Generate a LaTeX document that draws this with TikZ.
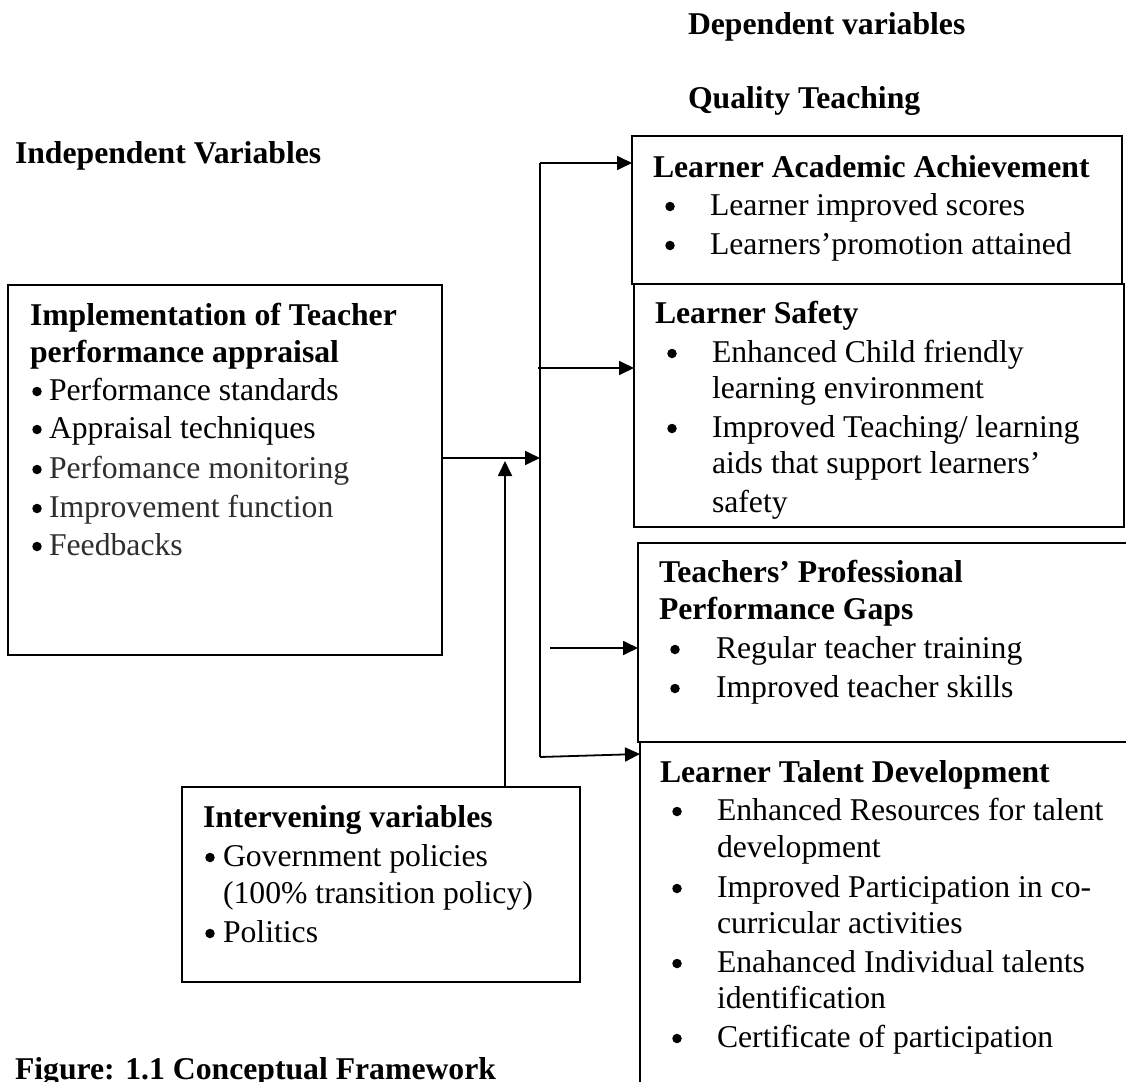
\documentclass[tikz,border=0pt]{standalone}
\usepackage{fontspec}
\setmainfont{Liberation Serif}
\usetikzlibrary{arrows.meta}
\begin{document}
\begin{tikzpicture}[x=1pt,y=-1pt,
  txt/.style={inner sep=0pt, outer sep=0pt, anchor=base west, font=\fontsize{31.7}{38}\selectfont},
  hd/.style={txt, font=\fontsize{31.7}{38}\selectfont\bfseries},
  gry/.style={txt, text=black!82},
  bul/.style={circle, fill=black, draw=none, inner sep=0pt, outer sep=0pt, minimum size=9.5pt},
  box/.style={draw, line width=1.8pt, inner sep=0pt, outer sep=0pt, anchor=north west},
  openbox/.style={box, draw=none},
  ln/.style={line width=1.8pt},
  arr/.style={line width=1.8pt, -{Triangle[length=15pt,width=14pt]}}]
\useasboundingbox (0,0) rectangle (1126,1081);

% boxes
\node[box, minimum width=490pt, minimum height=148pt] (A) at (632,136) {};
\node[box, minimum width=490pt, minimum height=243pt] (B) at (634,284) {};
\node[openbox, minimum width=492pt, minimum height=199pt] (C) at (638,543) {};
\node[openbox, minimum width=490pt, minimum height=345pt] (D) at (640,742) {};
\node[box, minimum width=434pt, minimum height=370pt] (L) at (8,285) {};
\node[box, minimum width=398pt, minimum height=195pt] (I) at (182,787) {};
\draw[ln] (C.north east) -- (C.north west) -- (C.south west) -- (C.south east);
\draw[ln] (D.north east) -- (D.north west) -- (D.south west);

% headings
\node[hd] (hDep) at (688,35) {Dependent variables};
\node[hd] (hQual) at (688,108) {Quality Teaching};
\node[hd] (hInd) at (15,163) {Independent Variables};
\node[hd] (hFig) at (15,1079) {Figure: 1.1 Conceptual Framework};

% box A
\node[hd] (tA) at (653,177) {Learner Academic Achievement};
\node[bul] (a1b) at (670,206.5) {};
\node[txt] (a1) at (710,215) {Learner improved scores};
\node[bul] (a2b) at (670,245.5) {};
\node[txt] (a2) at (710,254) {Learners’promotion attained};

% box B
\node[hd] (tB) at (655,323) {Learner Safety};
\node[bul] (b1b) at (672,353.5) {};
\node[txt] (b1) at (712,362) {Enhanced Child friendly};
\node[txt] (b1c) at (712,398) {learning environment};
\node[bul] (b2b) at (672,428.5) {};
\node[txt] (b2) at (712,437) {Improved Teaching/ learning};
\node[txt] (b2c) at (712,473) {aids that support learners’};
\node[txt] (b2d) at (712,512) {safety};

% box C
\node[hd] (tC1) at (659,582) {Teachers’ Professional};
\node[hd] (tC2) at (659,619) {Performance Gaps};
\node[bul] (c1b) at (675,649.5) {};
\node[txt] (c1) at (716,658) {Regular teacher training};
\node[bul] (c2b) at (675,688.5) {};
\node[txt] (c2) at (716,697) {Improved teacher skills};

% box D
\node[hd] (tD) at (660,782) {Learner Talent Development};
\node[bul] (d1b) at (677,811.5) {};
\node[txt] (d1) at (717,820) {Enhanced Resources for talent};
\node[txt] (d1c) at (717,857) {development};
\node[bul] (d2b) at (677,888.5) {};
\node[txt] (d2) at (717,897) {Improved Participation in co-};
\node[txt] (d2c) at (717,933) {curricular activities};
\node[bul] (d3b) at (677,963.5) {};
\node[txt] (d3) at (717,972) {Enahanced Individual talents};
\node[txt] (d3c) at (717,1008) {identification};
\node[bul] (d4b) at (677,1038.5) {};
\node[txt] (d4) at (717,1047) {Certificate of participation};

% left box
\node[hd] (tL1) at (30,325) {Implementation of Teacher};
\node[hd] (tL2) at (30,362) {performance appraisal};
\node[bul] (l1b) at (37,391.5) {};
\node[txt] (l1) at (49,400) {Performance standards};
\node[bul] (l2b) at (37,429.5) {};
\node[txt] (l2) at (49,438) {Appraisal techniques};
\node[bul] (l3b) at (37,469.5) {};
\node[gry] (l3) at (49,478) {Perfomance monitoring};
\node[bul] (l4b) at (37,508.5) {};
\node[gry] (l4) at (49,517) {Improvement function};
\node[bul] (l5b) at (37,546.5) {};
\node[gry] (l5) at (49,555) {Feedbacks};

% intervening box
\node[hd] (tI) at (203,827) {Intervening variables};
\node[bul] (i1b) at (210,857.5) {};
\node[txt] (i1) at (223,866) {Government policies};
\node[txt] (i1c) at (223,903) {(100\% transition policy)};
\node[bul] (i2b) at (210,933.5) {};
\node[txt] (i2) at (223,942) {Politics};

% connectors
\coordinate (tTop) at (540,163);
\coordinate (tBot) at (540,757);
\coordinate (bS) at (538,368);
\coordinate (mJ) at (540,458);
\coordinate (iv) at (505,461);
\coordinate (cS) at (550,648);
\coordinate (dY) at (0,754);
\draw[ln] (tTop) -- (tBot);
\draw[arr] (tTop) -- (A.west |- tTop);
\draw[arr] (bS) -- (B.west |- bS);
\draw[arr] (L.east |- mJ) -- (mJ);
\draw[arr] (I.north -| iv) -- (iv);
\draw[arr] (cS) -- (C.west |- cS);
\draw[arr] (tBot) -- (D.west |- dY);
\end{tikzpicture}
\end{document}
